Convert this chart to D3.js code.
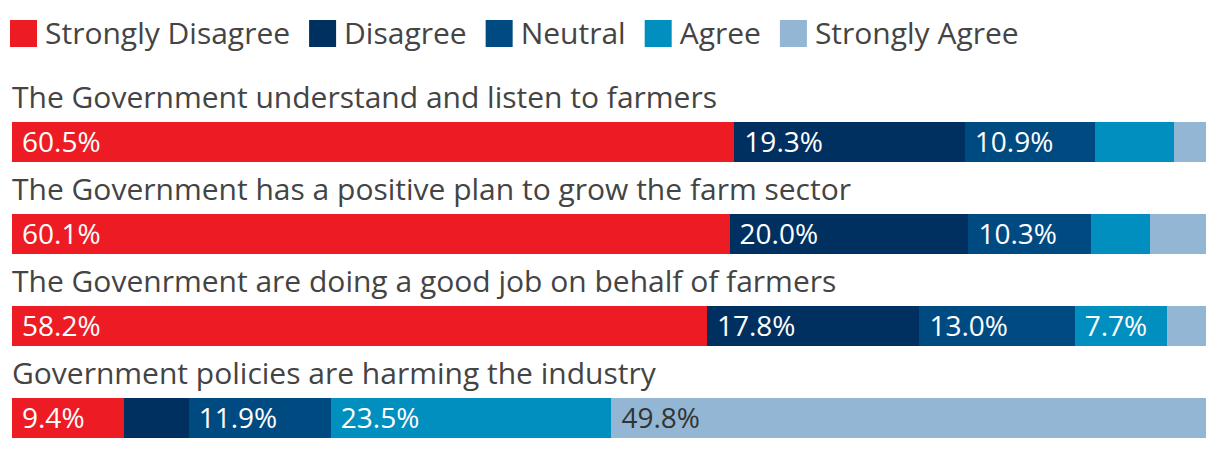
<!DOCTYPE html>
<html><head><meta charset="utf-8">
<script src="https://cdn.jsdelivr.net/npm/d3@7"></script>
<style>body{margin:0;background:#fff}svg{display:block;font-family:"Open Sans",sans-serif}</style>
</head><body>
<svg id="c" width="1220" height="450"></svg>
<script>
const categories = ["Strongly Disagree","Disagree","Neutral","Agree","Strongly Agree"];
const colors = ["#ed1c24","#00305f","#004a82","#008fbe","#93b6d4"];
const questions = [
  "The Government understand and listen to farmers",
  "The Government has a positive plan to grow the farm sector",
  "The Govenrment are doing a good job on behalf of farmers",
  "Government policies are harming the industry"
];
const stronglyDisagree = [60.5, 60.1, 58.2, 9.4];
const disagree = [19.3, 20.0, 17.8, 5.4];
const neutral = [10.9, 10.3, 13.0, 11.9];
const agree = [6.6, 4.9, 7.7, 23.5];
const stronglyAgree = [2.7, 4.7, 3.3, 49.8];
const series = [stronglyDisagree, disagree, neutral, agree, stronglyAgree];

const svg = d3.select("#c");
const fs = 30, labelFs = 28;
const textColor = "#444";

// legend
const lg = svg.append("g");
let lx = 10;
categories.forEach((c,i)=>{
  lg.append("rect").attr("x",lx).attr("y",20).attr("width",27).attr("height",27).attr("fill",colors[i]);
  const t = lg.append("text").attr("x",lx+35).attr("y",44).attr("font-size",fs).attr("fill",textColor).text(c);
  lx += 35 + t.node().getComputedTextLength() + 19;
});

const x = d3.scaleLinear().domain([0,100]).range([12,1206]);
const y = d3.scaleBand().domain(questions).range([122,490]).paddingInner(0);
const barH = 40;

const rows = svg.append("g").selectAll("g").data(questions).join("g")
  .attr("transform", d=>`translate(0,${y(d)})`);
rows.append("text").attr("x",12).attr("y",-14).attr("font-size",fs).attr("fill",textColor).text(d=>d);

rows.each(function(q, qi){
  const g = d3.select(this);
  let cum = 0;
  series.forEach((s,si)=>{
    const v = s[qi];
    g.append("rect").attr("x",x(cum)).attr("y",0).attr("width",x(cum+v)-x(cum)).attr("height",barH)
      .attr("fill",colors[si]).attr("shape-rendering","crispEdges");
    if (v >= 7) {
      g.append("text").attr("x",x(cum)+10).attr("y",30).attr("font-size",labelFs)
        .attr("fill", si===4 ? "#333" : "#fff").text(v.toFixed(1)+"%");
    }
    cum += v;
  });
});
</script>
</body></html>
